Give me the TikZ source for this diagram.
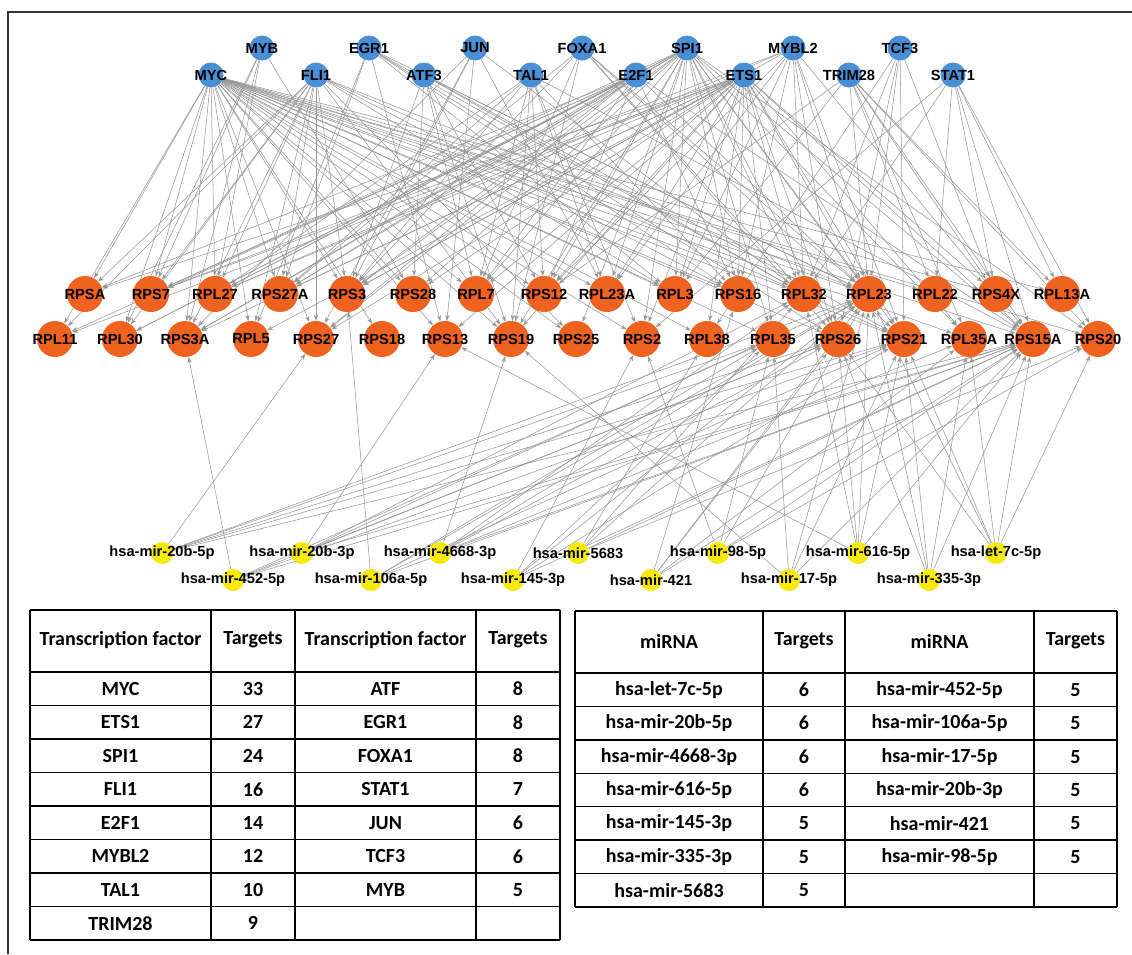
\documentclass[tikz,border=0pt]{standalone}
\usepackage{fontspec}
\setmainfont{Carlito}
\newfontfamily\netfont{Liberation Sans}
\usetikzlibrary{arrows.meta}
\pgfdeclarelayer{bg}
\pgfsetlayers{bg,main}
\definecolor{tfblue}{RGB}{72,143,214}
\definecolor{rporange}{RGB}{240,98,32}
\definecolor{miryellow}{RGB}{247,233,12}
\definecolor{edgegray}{RGB}{150,150,150}
\definecolor{framegray}{RGB}{50,50,50}

\begin{document}
\begin{tikzpicture}[x=0.75pt,y=-0.75pt,>={Stealth[length=4.5pt,width=3.2pt]},
    netlab/.style={font=\netfont\bfseries\fontsize{11}{13}\selectfont,inner sep=0pt},
    every label/.style=netlab,
    tf/.style={circle,fill=tfblue,minimum size=18.75pt,inner sep=0pt},
    rp/.style={circle,fill=rporange,minimum size=27pt,inner sep=0pt},
    mir/.style={circle,fill=miryellow,minimum size=16.5pt,inner sep=0pt},
    edge/.style={->,draw=edgegray,line width=0.4pt},
    tabline/.style={line width=1.1pt},
    tabtxt/.style={font=\bfseries\fontsize{15}{18}\selectfont,inner sep=0pt}]
  \useasboundingbox (0,0) rectangle (1132,954);
  \draw[line width=2.2pt,draw=framegray] (8,954) -- (8,12) -- (1132,12);

  % transcription factors
  \foreach \n/\x/\y in {MYB/262/48,EGR1/369/48,JUN/475/48,FOXA1/582/48,SPI1/687/48,
      MYBL2/793/48,TCF3/900/48,MYC/211/75,FLI1/316/75,ATF3/424/75,TAL1/531/75,
      E2F1/636/75,ETS1/744/75,TRIM28/849/75,STAT1/953/75}
    \node[tf,label={center:\n}] (\n) at (\x,\y) {};

  % ribosomal protein genes
  \foreach \n/\x in {RPSA/85,RPS7/151,RPL27/215,RPS27A/280,RPS3/347,RPS28/413,
      RPL7/476,RPS12/544,RPL23A/607,RPL3/675,RPS16/738,RPL32/804,RPL23/869,
      RPL22/935,RPS4X/996,RPL13A/1062}
    \node[rp,label={center:\n}] (\n) at (\x,294) {};
  \foreach \n/\x in {RPL11/55,RPL30/120,RPS3A/185,RPL5/251,RPS27/316,RPS18/382,
      RPS13/445,RPS19/511,RPS25/576,RPS2/642,RPL38/707,RPL35/773,RPS26/838,
      RPS21/904,RPL35A/969,RPS15A/1033,RPS20/1098}
    \node[rp,label={center:\n}] (\n) at (\x,339) {};

  % miRNAs
  \foreach \n/\t/\x/\y in {m20b5p/hsa-mir-20b-5p/162/553,m20b3p/hsa-mir-20b-3p/302/553,
      m4668/hsa-mir-4668-3p/440/553,m5683/hsa-mir-5683/578/553,m98/hsa-mir-98-5p/718/553,
      m616/hsa-mir-616-5p/858/553,let7c/hsa-let-7c-5p/996/553,
      m452/hsa-mir-452-5p/233/580,m106a/hsa-mir-106a-5p/371/580,
      m145/hsa-mir-145-3p/513/580,m421/hsa-mir-421/651/580,
      m17/hsa-mir-17-5p/789/580,m335/hsa-mir-335-3p/929/580}
    \node[mir,label={center:\t}] (\n) at (\x,\y) {};

  % regulatory edges
  \begin{pgfonlayer}{bg}
  \foreach \s/\ts in {
      MYC/{RPSA,RPS7,RPL27,RPS27A,RPS3,RPS28,RPL7,RPS12,RPL23A,RPL3,RPS16,RPL32,RPL23,
        RPL22,RPS4X,RPL13A,RPL11,RPL30,RPS3A,RPL5,RPS27,RPS18,RPS13,RPS19,RPS25,RPS2,
        RPL38,RPL35,RPS26,RPS21,RPL35A,RPS15A,RPS20},
      ETS1/{RPSA,RPS7,RPL27,RPS27A,RPS3,RPS28,RPL7,RPS12,RPL23A,RPL3,RPS16,RPL32,RPL23,
        RPS4X,RPL11,RPS3A,RPL5,RPS27,RPS13,RPS19,RPS2,RPL38,RPL35,RPS26,RPS21,RPL35A,RPS15A},
      SPI1/{RPS7,RPL27,RPS27A,RPS3,RPS28,RPL7,RPS12,RPL23A,RPL3,RPS16,RPL32,RPL23,
        RPL30,RPS3A,RPS27,RPS19,RPS25,RPS2,RPL35,RPS26,RPS21,RPL35A,RPS15A,RPS20},
      FLI1/{RPSA,RPS7,RPL27,RPS27A,RPS3,RPL11,RPL30,RPS3A,RPL5,RPS27,RPS19,RPS25,
        RPL3,RPS16,RPL23,RPS21},
      E2F1/{RPSA,RPS7,RPL27,RPS27A,RPL11,RPL30,RPS3A,RPS3,RPS27,RPL7,RPS12,RPL23,
        RPS16,RPS15A},
      MYBL2/{RPS7,RPL27,RPS3,RPS12,RPL23A,RPL3,RPS16,RPL32,RPL23,RPS21,RPS26,RPS15A},
      TAL1/{RPL27,RPS27A,RPS3,RPL7,RPS12,RPL23A,RPS19,RPS2,RPS16,RPS15A},
      TRIM28/{RPL22,RPS4X,RPL13A,RPL23,RPS15A,RPS20,RPL35A,RPL3,RPS12},
      ATF3/{RPS3,RPS28,RPL7,RPS12,RPL23,RPL32,RPS19,RPS21},
      EGR1/{RPS27A,RPL5,RPS13,RPL3,RPS16,RPL32,RPS26,RPL23},
      FOXA1/{RPS27A,RPS3,RPL7,RPS19,RPL32,RPS26,RPS21,RPL23},
      STAT1/{RPL13A,RPS4X,RPL22,RPS15A,RPS20,RPL32,RPS2},
      JUN/{RPS27,RPS3A,RPS3,RPL23A,RPL32,RPS13},
      TCF3/{RPL23,RPL32,RPS26,RPS21,RPL38,RPS4X},
      MYB/{RPS7,RPL27,RPL30,RPS3A,RPS28},
      m452/{RPS3A,RPL35,RPS26,RPS21,RPS15A},
      m20b5p/{RPS27,RPL35,RPS26,RPL23,RPS15A,RPS21},
      m20b3p/{RPS13,RPL32,RPL23,RPS15A,RPS26},
      m106a/{RPS3,RPL35,RPS15A,RPL23,RPS21},
      m4668/{RPS19,RPL32,RPS26,RPS15A,RPL35A,RPL23},
      m145/{RPS2,RPL35,RPL23,RPS15A,RPS21},
      m5683/{RPL38,RPL32,RPL23,RPS15A,RPS20},
      m421/{RPS16,RPL23,RPS26,RPS15A,RPL35A},
      m98/{RPS2,RPL35,RPL23,RPS15A,RPS20},
      m17/{RPS19,RPL35,RPL23,RPS21,RPS15A},
      m616/{RPS13,RPS26,RPL32,RPS21,RPS15A,RPL23},
      m335/{RPS26,RPL23,RPS21,RPL35A,RPS15A},
      let7c/{RPS21,RPL35A,RPS15A,RPS20,RPL23,RPS26}}
    \foreach \t in \ts
      \draw[edge] (\s) -- (\t);
  \end{pgfonlayer}

  % table of transcription factors
  \foreach \x in {30,211,295,476,560}
    \draw[tabline] (\x,610) -- (\x,940);
  \draw[tabline] (30,610) -- (560,610);
  \foreach \k in {0,...,8}
    \draw[tabline] (30,{672+33.5*\k}) -- (560,{672+33.5*\k});
  \node[tabtxt] (tfh1) at (120.5,640) {Transcription factor};
  \node[tabtxt] (tfh2) at (253,640) {Targets};
  \node[tabtxt] (tfh3) at (385.5,640) {Transcription factor};
  \node[tabtxt] (tfh4) at (518,640) {Targets};
  \foreach \a/\b/\c/\d [count=\i] in {MYC/33/ATF/8,ETS1/27/EGR1/8,SPI1/24/FOXA1/8,
      FLI1/16/STAT1/7,E2F1/14/JUN/6,MYBL2/12/TCF3/6,TAL1/10/MYB/5,TRIM28/9/{}/{}}{
    \node[tabtxt] (tfa\i) at (120.5,{672+33.5*\i-16.75}) {\a};
    \node[tabtxt] (tfb\i) at (253,{672+33.5*\i-16.75}) {\b};
    \node[tabtxt] (tfc\i) at (385.5,{672+33.5*\i-16.75}) {\c};
    \node[tabtxt] (tfd\i) at (518,{672+33.5*\i-16.75}) {\d};
  }

  % table of miRNAs
  \foreach \x in {575,763,845,1034,1117}
    \draw[tabline] (\x,611) -- (\x,907);
  \draw[tabline] (575,611) -- (1117,611);
  \foreach \k in {0,...,7}
    \draw[tabline] (575,{673+33.43*\k}) -- (1117,{673+33.43*\k});
  \node[tabtxt] (mih1) at (669,641) {miRNA};
  \node[tabtxt] (mih2) at (804,641) {Targets};
  \node[tabtxt] (mih3) at (939.5,641) {miRNA};
  \node[tabtxt] (mih4) at (1075.5,641) {Targets};
  \foreach \a/\b/\c/\d [count=\i] in {hsa-let-7c-5p/6/hsa-mir-452-5p/5,
      hsa-mir-20b-5p/6/hsa-mir-106a-5p/5,hsa-mir-4668-3p/6/hsa-mir-17-5p/5,
      hsa-mir-616-5p/6/hsa-mir-20b-3p/5,hsa-mir-145-3p/5/hsa-mir-421/5,
      hsa-mir-335-3p/5/hsa-mir-98-5p/5,hsa-mir-5683/5/{}/{}}{
    \node[tabtxt] (mia\i) at (669,{673+33.43*\i-16.7}) {\a};
    \node[tabtxt] (mib\i) at (804,{673+33.43*\i-16.7}) {\b};
    \node[tabtxt] (mic\i) at (939.5,{673+33.43*\i-16.7}) {\c};
    \node[tabtxt] (mid\i) at (1075.5,{673+33.43*\i-16.7}) {\d};
  }
\end{tikzpicture}
\end{document}
